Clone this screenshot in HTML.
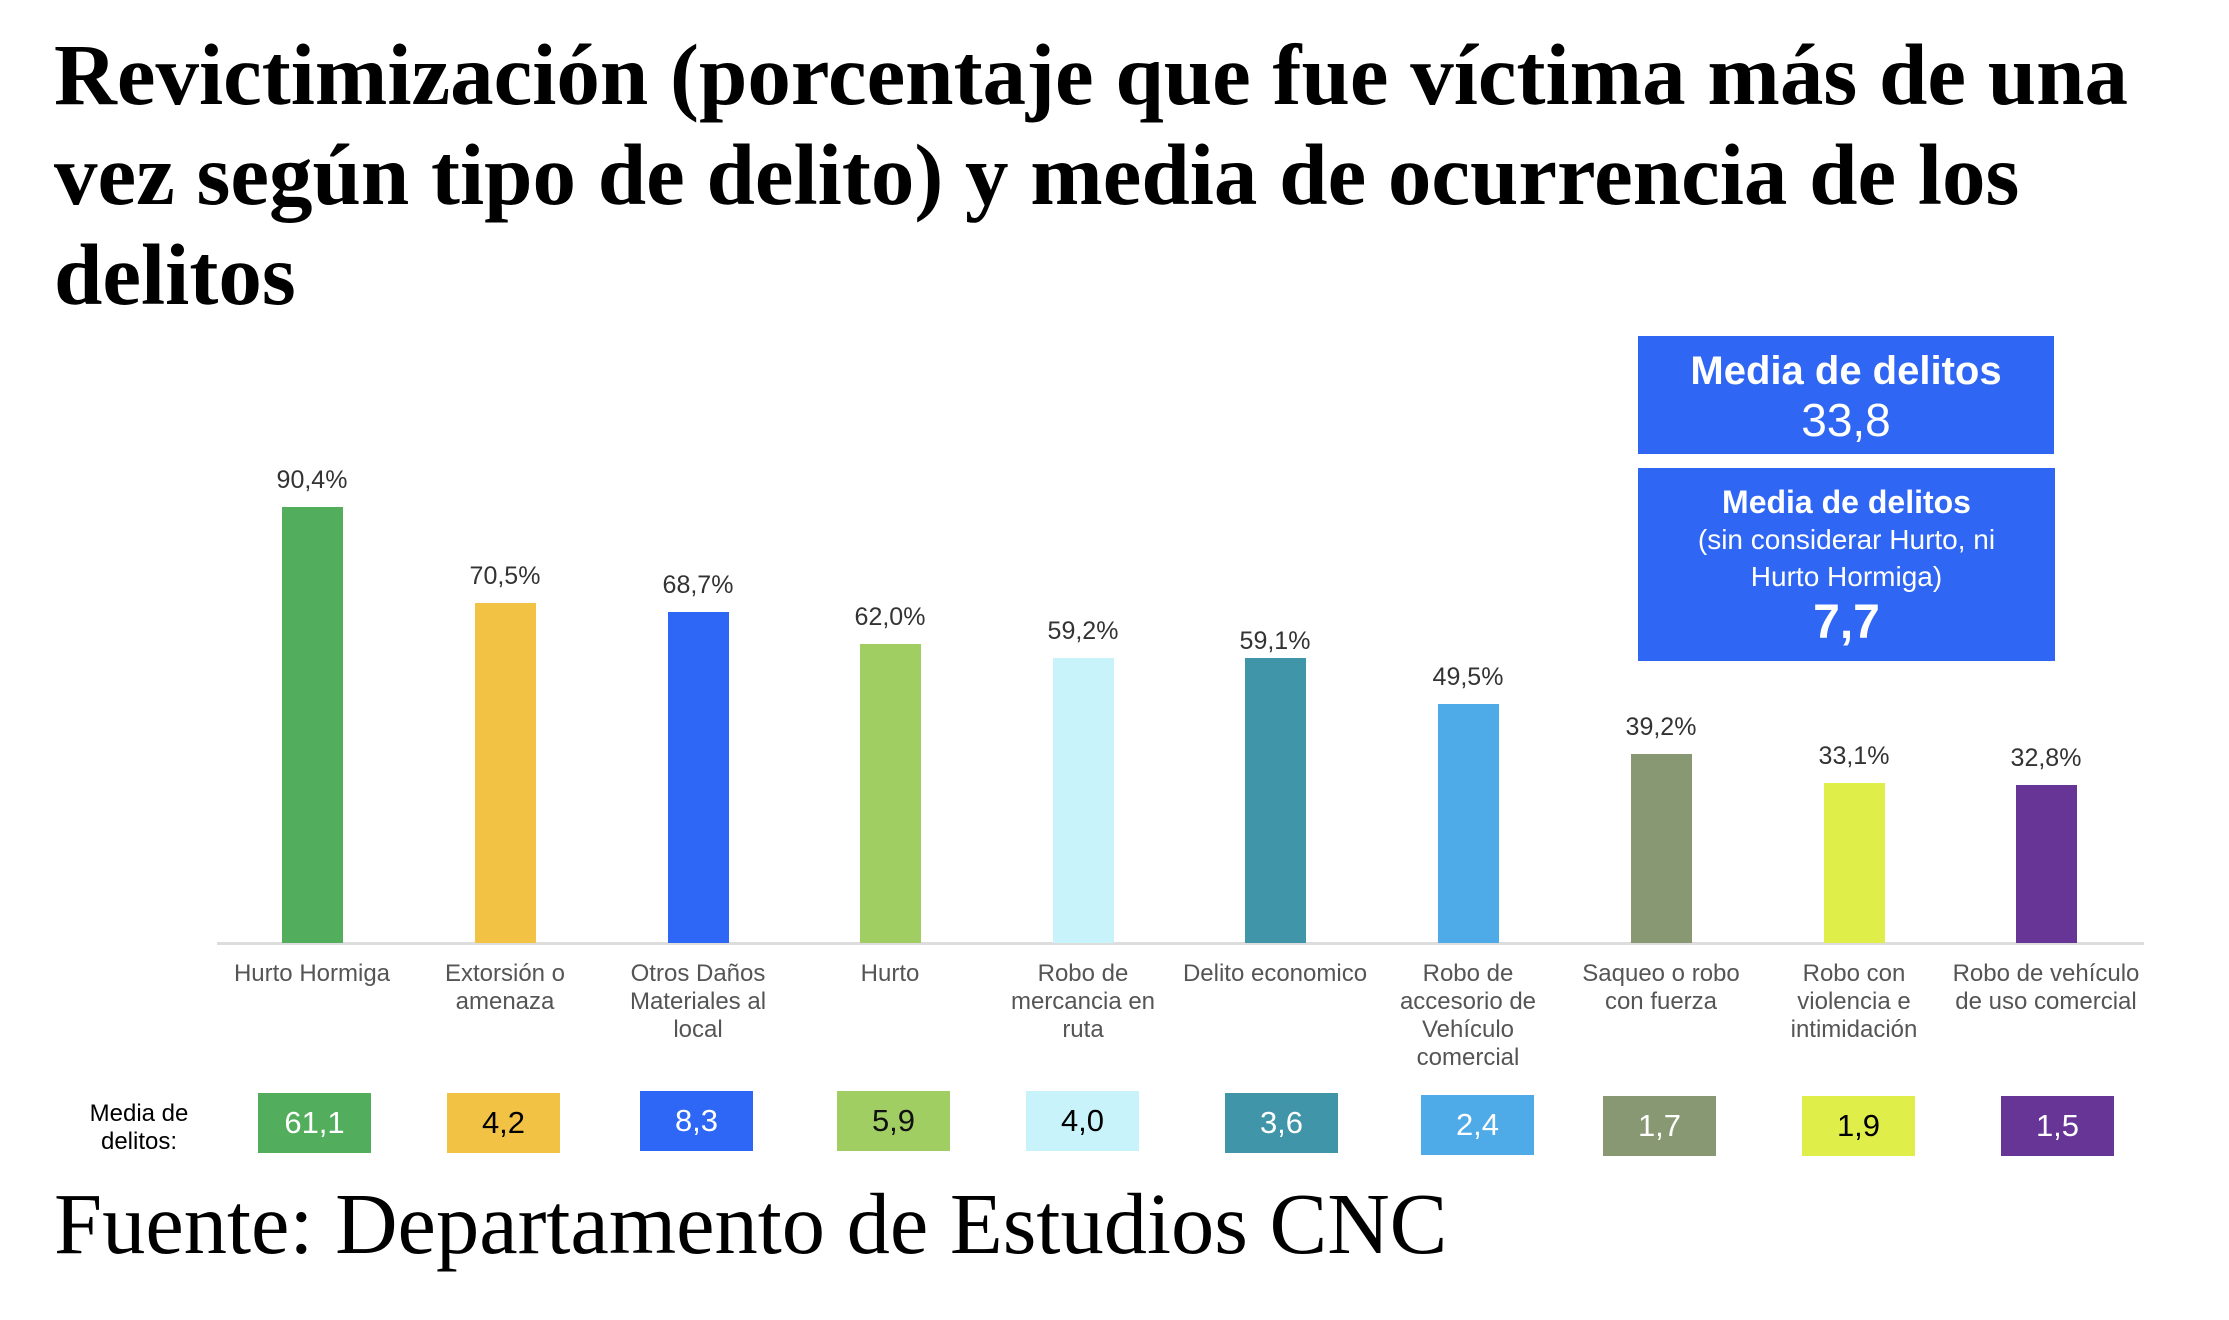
<!DOCTYPE html>
<html><head><meta charset="utf-8"><style>
body{margin:0;width:2229px;height:1320px;background:#fff;position:relative;overflow:hidden;font-family:"Liberation Sans",sans-serif}
.t{position:absolute;left:54px;top:25px;width:2175px;font-family:"Liberation Serif",serif;font-weight:bold;font-size:87px;line-height:100px;color:#000;white-space:nowrap}
.f{position:absolute;left:54px;top:1181px;font-family:"Liberation Serif",serif;font-size:86.5px;line-height:1;color:#000;white-space:nowrap}
.bar{position:absolute;width:61px}
.v{position:absolute;width:160px;text-align:center;font-size:25px;color:#333;line-height:1}
.c{position:absolute;width:200px;text-align:center;font-size:24px;line-height:28px;color:#555;top:960px}
.b{position:absolute;width:113px;height:60px;top:1093px;text-align:center;line-height:60px;font-size:31px}
.axis{position:absolute;left:217px;width:1927px;top:942px;height:3px;background:#ddd}
.bx{position:absolute;background:#2f66f3;color:#fff;text-align:center}
</style></head><body>
<div class="t">Revictimización (porcentaje que fue víctima más de una<br>vez según tipo de delito) y media de ocurrencia de los<br>delitos</div>

<div class="bx" style="left:1638px;top:336px;width:416px;height:118px">
<div style="font-weight:bold;font-size:40px;margin-top:12px;line-height:46px">Media de delitos</div>
<div style="font-size:46px;line-height:52px">33,8</div></div>
<div class="bx" style="left:1638px;top:468px;width:417px;height:193px">
<div style="font-weight:bold;font-size:32px;line-height:38px;margin-top:15px">Media de delitos</div>
<div style="font-size:28px;line-height:37px">(sin considerar Hurto, ni<br>Hurto Hormiga)</div>
<div style="font-weight:bold;font-size:48px;line-height:56px">7,7</div></div>

<div class="axis"></div>

<div class="bar" style="left:282px;top:507px;height:436px;background:#52ae5c"></div>
<div class="bar" style="left:475px;top:603px;height:340px;background:#f2c244"></div>
<div class="bar" style="left:668px;top:612px;height:331px;background:#2e66f5"></div>
<div class="bar" style="left:860px;top:644px;height:299px;background:#a0ce63"></div>
<div class="bar" style="left:1053px;top:658px;height:285px;background:#c8f3fb"></div>
<div class="bar" style="left:1245px;top:658px;height:285px;background:#4195a8"></div>
<div class="bar" style="left:1438px;top:704px;height:239px;background:#4faae8"></div>
<div class="bar" style="left:1631px;top:754px;height:189px;background:#889873"></div>
<div class="bar" style="left:1824px;top:783px;height:160px;background:#e0ee4a"></div>
<div class="bar" style="left:2016px;top:785px;height:158px;background:#673596"></div>

<div class="v" style="left:232px;top:468px">90,4%</div>
<div class="v" style="left:425px;top:564px">70,5%</div>
<div class="v" style="left:618px;top:573px">68,7%</div>
<div class="v" style="left:810px;top:605px">62,0%</div>
<div class="v" style="left:1003px;top:619px">59,2%</div>
<div class="v" style="left:1195px;top:629px">59,1%</div>
<div class="v" style="left:1388px;top:665px">49,5%</div>
<div class="v" style="left:1581px;top:715px">39,2%</div>
<div class="v" style="left:1774px;top:744px">33,1%</div>
<div class="v" style="left:1966px;top:746px">32,8%</div>

<div class="c" style="left:212px">Hurto Hormiga</div>
<div class="c" style="left:405px">Extorsión o<br>amenaza</div>
<div class="c" style="left:598px">Otros Daños<br>Materiales al<br>local</div>
<div class="c" style="left:790px">Hurto</div>
<div class="c" style="left:983px">Robo de<br>mercancia en<br>ruta</div>
<div class="c" style="left:1175px">Delito economico</div>
<div class="c" style="left:1368px">Robo de<br>accesorio de<br>Vehículo<br>comercial</div>
<div class="c" style="left:1561px">Saqueo o robo<br>con fuerza</div>
<div class="c" style="left:1754px">Robo con<br>violencia e<br>intimidación</div>
<div class="c" style="left:1946px">Robo de vehículo<br>de uso comercial</div>

<div style="position:absolute;left:59px;top:1100px;width:160px;text-align:center;font-size:24px;line-height:28px;color:#000">Media de<br>delitos:</div>
<div class="b" style="left:258px;background:#52ae5c;color:#fff">61,1</div>
<div class="b" style="left:447px;background:#f2c244;color:#000">4,2</div>
<div class="b" style="left:640px;top:1091px;background:#2e66f5;color:#fff">8,3</div>
<div class="b" style="left:837px;top:1091px;background:#a0ce63;color:#111">5,9</div>
<div class="b" style="left:1026px;top:1091px;background:#c8f3fb;color:#000">4,0</div>
<div class="b" style="left:1225px;background:#4195a8;color:#fff">3,6</div>
<div class="b" style="left:1421px;top:1095px;background:#4faae8;color:#fff">2,4</div>
<div class="b" style="left:1603px;top:1096px;background:#889873;color:#fff">1,7</div>
<div class="b" style="left:1802px;top:1096px;background:#e0ee4a;color:#000">1,9</div>
<div class="b" style="left:2001px;top:1096px;background:#673596;color:#fff">1,5</div>

<div class="f">Fuente: Departamento de Estudios CNC</div>
</body></html>
